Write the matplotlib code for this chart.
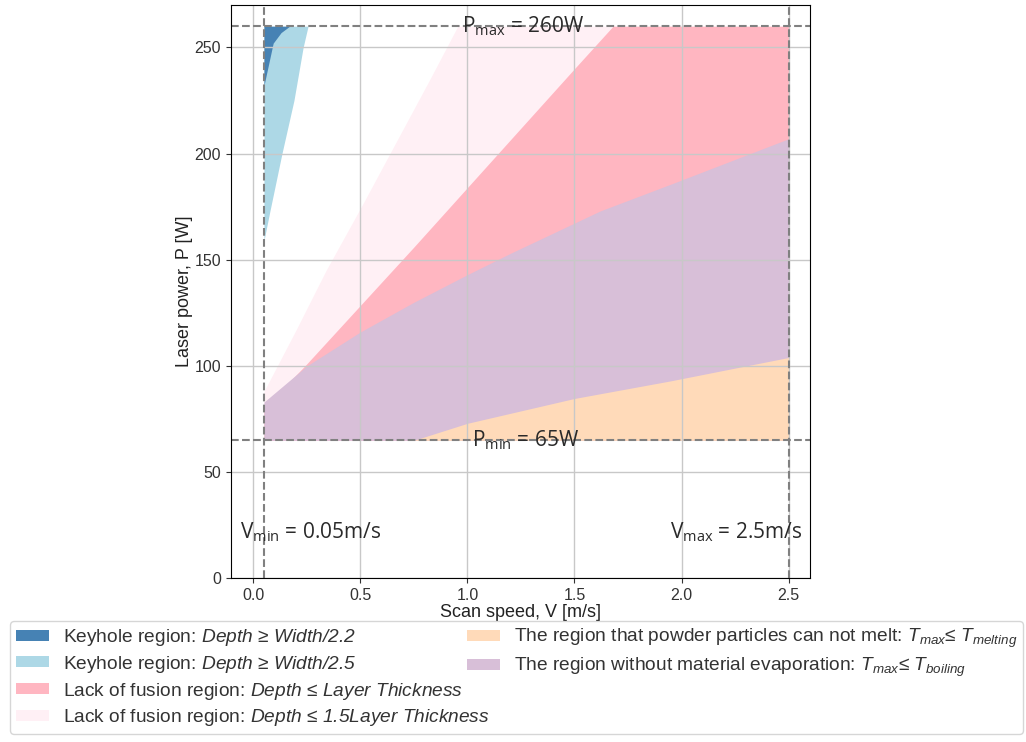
"""
Process window map: laser power vs scan speed, shaded by defect regions.
"""

import matplotlib
matplotlib.use("Agg")
import matplotlib.pyplot as plt
from matplotlib.patches import Patch

plt.rcParams["font.family"] = ["Liberation Sans", "DejaVu Sans"]
# math parts of the legend are fully italic (digits too)
plt.rcParams["mathtext.fontset"] = "custom"
plt.rcParams["mathtext.rm"] = "Liberation Sans:italic"
plt.rcParams["mathtext.it"] = "Liberation Sans:italic"

# ---------------------------------------------------------
# Data (V in m/s, P in W)
# ---------------------------------------------------------
P_MIN, P_MAX = 65, 260
V_MIN, V_MAX = 0.05, 2.5

# keyhole Depth >= Width/2.2 : region above this curve
kh22_v = [0.05, 0.05, 0.093, 0.13, 0.17]
kh22_p = [260, 232, 252, 257, 260]

# keyhole Depth >= Width/2.5 : region above this curve
kh25_v = [0.05, 0.078, 0.134, 0.19, 0.233, 0.256]
kh25_p = [159, 173, 200, 225, 250, 260]

# lack of fusion Depth <= 1.5 layer thickness : region below this curve
lof15_v = [0.05, 0.2, 0.34, 0.51, 0.67, 0.83, 0.955, 2.5]
lof15_p = [88, 117, 145, 176, 206, 236, 260, 260]

# lack of fusion Depth <= layer thickness : region below this curve
lof_v = [0.05, 0.25, 0.5, 0.75, 1.0, 1.25, 1.5, 1.68, 2.5]
lof_p = [80, 101, 128.5, 156, 184, 212, 240, 260, 260]

# no evaporation T_max <= T_boiling : region below this curve
evap_v = [0.05, 0.25, 0.5, 0.75, 1.0, 1.2, 1.62, 1.96, 2.5]
evap_p = [83, 100, 116, 130, 143, 153, 173, 186, 207]

# powder can not melt T_max <= T_melting : region below this curve
melt_v = [0.75, 1.0, 1.5, 1.95, 2.5]
melt_p = [65, 73, 84.7, 93, 104]

labels = [
    r"Keyhole region: $Depth$ ≥ $Width/2.2$",
    r"Keyhole region: $Depth$ ≥ $Width/2.5$",
    r"Lack of fusion region: $Depth$ ≤ $Layer\ Thickness$",
    r"Lack of fusion region: $Depth$ ≤ $1.5Layer\ Thickness$",
    r"The region that powder particles can not melt: $T_{max}$≤ $T_{melting}$",
    r"The region without material evaporation: $T_{max}$≤ $T_{boiling}$",
]
colors = ["steelblue", "lightblue", "lightpink", "lavenderblush", "peachpuff", "thistle"]


# ---------------------------------------------------------
# Plot
# ---------------------------------------------------------
fig = plt.figure(figsize=(10.26, 7.42), dpi=100)
ax = fig.add_axes([0.2249, 0.2206, 0.5646, 0.7727])

h_lof15 = ax.fill_between(lof15_v, P_MIN, lof15_p, color=colors[3], lw=0)
h_lof = ax.fill_between(lof_v, P_MIN, lof_p, color=colors[2], lw=0)
h_evap = ax.fill_between(evap_v, P_MIN, evap_p, color=colors[5], lw=0)
h_melt = ax.fill_between(melt_v, P_MIN, melt_p, color=colors[4], lw=0)
h_kh25 = ax.fill_between(kh25_v, kh25_p, P_MAX, color=colors[1], lw=0)
h_kh22 = ax.fill_between(kh22_v, kh22_p, P_MAX, color=colors[0], lw=0)

for p in (P_MIN, P_MAX):
    ax.axhline(p, color="grey", ls="--", lw=1.5)
for v in (V_MIN, V_MAX):
    ax.axvline(v, color="grey", ls="--", lw=1.5)

ax.set_xlim(-0.105, 2.6)
ax.set_ylim(0, 270)
ax.set_xticks([0, 0.5, 1.0, 1.5, 2.0, 2.5])
ax.set_yticks([0, 50, 100, 150, 200, 250])
ax.tick_params(labelsize=11.5, colors="#333333")
ax.grid(True, color="#c8c8c8", lw=1.0)
ax.set_xlabel("Scan speed, V [m/s]", fontsize=13, color="#222222", labelpad=1)
ax.set_ylabel("Laser power, P [W]", fontsize=13, color="#222222", labelpad=1)

ann = dict(fontsize=15, family="Open Sans", color="#2a2a2a", va="center")
ax.text(0.975, 260, r"P$_{\mathregular{max}}$ = 260W", **ann)
ax.text(1.02, 65, r"P$_{\mathregular{min}}$ = 65W", **ann)
ax.text(-0.062, 21.8, r"V$_{\mathregular{min}}$ = 0.05m/s", **ann)
ax.text(1.947, 21.8, r"V$_{\mathregular{max}}$ = 2.5m/s", **ann)

# two empty slots so the first column holds four entries
blank = Patch(visible=False)
handles = [h_kh22, h_kh25, h_lof, h_lof15, h_melt, h_evap, blank, blank]
fig.legend(handles, labels + ["", ""], ncol=2, loc="upper left",
           bbox_to_anchor=(0.0097, 0.163), borderaxespad=0,
           fontsize=13.8, labelcolor="#333333",
           labelspacing=0.3, columnspacing=-1.2, handlelength=1.75,
           handleheight=0.5, handletextpad=0.72, borderpad=0.3,
           frameon=True, edgecolor="#cccccc")

fig.savefig("out.png", dpi=100)
